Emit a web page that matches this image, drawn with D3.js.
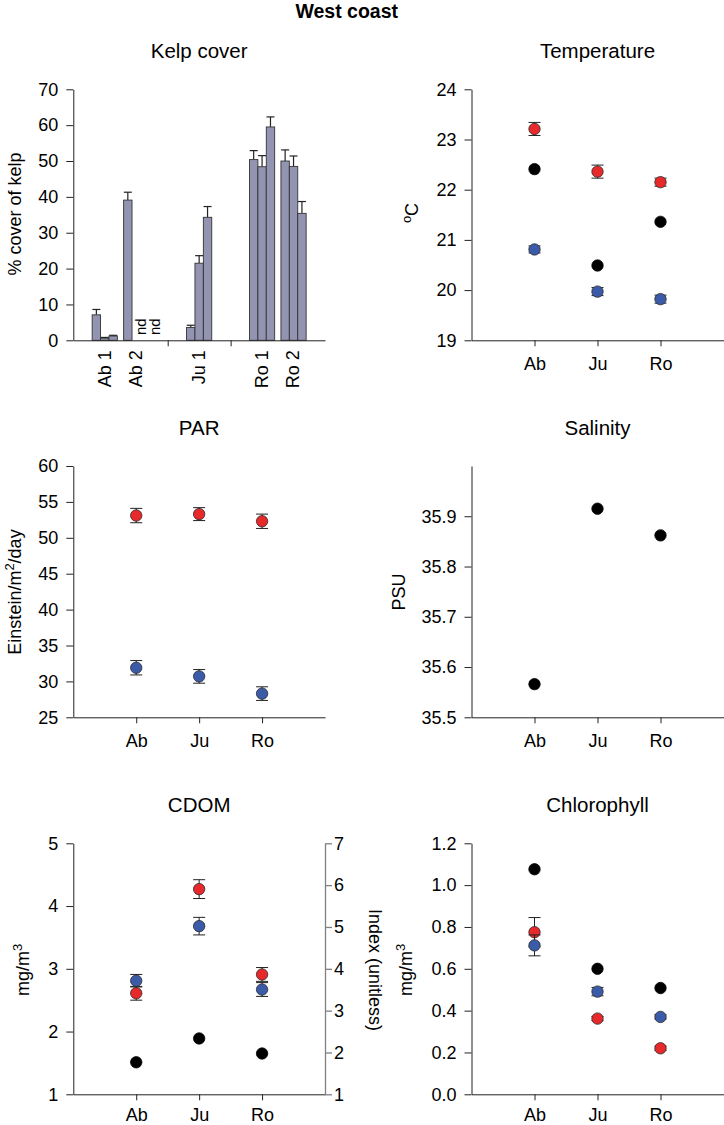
<!DOCTYPE html>
<html>
<head>
<meta charset="utf-8">
<script src="https://cdn.jsdelivr.net/npm/d3@7"></script>
<style>
  body { margin: 0; background: #fff; }
  svg { display: block; }
  text { font-family: "Liberation Sans", Arial, Helvetica, sans-serif; fill: #000; }
</style>
</head>
<body>
<svg id="chart" width="724" height="1125"></svg>
<script>
// ---------------- DATA ----------------
const sites = ["Ab", "Ju", "Ro"];

// Kelp cover (% cover), three bars per site group; null = "nd"
const kelpGroups = ["Ab 1", "Ab 2", "Ju 1", "Ro 1", "Ro 2"];
const kelpSlots = [1, 2, 4, 6, 7];
const kelpSeparators = [3, 5];
const kelpMean = [[7.1, 0.6, 1.2], [39.1, null, null], [3.6, 21.5, 34.3], [50.4, 48.4, 59.5], [50.0, 48.5, 35.4]];
const kelpSE = [[1.5, 0.2, 0.2], [2.2, null, null], [0.6, 2.1, 3.0], [2.5, 3.1, 2.8], [3.1, 2.9, 3.3]];
const kelpTicks = [0, 10, 20, 30, 40, 50, 60, 70];

// Temperature (oC)
const tempRed = [23.21, 22.36, 22.15];
const tempRedSE = [0.13, 0.13, 0.08];
const tempBlue = [20.81, 19.97, 19.82];
const tempBlueSE = [0.07, 0.08, 0.08];
const tempBlack = [22.41, 20.49, 21.36];
const tempTicks = [19, 20, 21, 22, 23, 24];

// PAR (Einstein/m2/day)
const parRed = [53.1, 53.3, 52.3];
const parRedSE = [1.0, 0.9, 1.0];
const parBlue = [31.9, 30.7, 28.3];
const parBlueSE = [1.0, 0.95, 0.95];
const parTicks = [25, 30, 35, 40, 45, 50, 55, 60];

// Salinity (PSU)
const salBlack = [35.566, 35.915, 35.862];
const salTicks = [35.5, 35.6, 35.7, 35.8, 35.9];

// CDOM (mg/m3, right axis index)
const cdomRed = [2.61, 4.27, 2.91];
const cdomRedSE = [0.11, 0.15, 0.11];
const cdomBlue = [2.81, 3.68, 2.67];
const cdomBlueSE = [0.10, 0.14, 0.11];
const cdomBlack = [1.51, 1.89, 1.65];
const cdomTicks = [1, 2, 3, 4, 5];
const cdomIndexTicks = [1, 2, 3, 4, 5, 6, 7];

// Chlorophyll (mg/m3)
const chlRed = [0.775, 0.362, 0.22];
const chlRedSE = [0.07, 0.01, 0.01];
const chlBlue = [0.712, 0.491, 0.37];
const chlBlueSE = [0.05, 0.02, 0.01];
const chlBlack = [1.076, 0.60, 0.508];
const chlTicks = [0, 0.2, 0.4, 0.6, 0.8, 1.0, 1.2];

// ---------------- STYLE / LAYOUT ----------------
const RED = "#e8292b", BLUE = "#3b5ba9", BLACK = "#000000", BAR = "#9394b1";
const AXIS = "#222";
const TICK_FS = 18, TITLE_FS = 20.5, LAB_FS = 18;
const LX = [73.3, 325], RX = [471.5, 723.5];
const ROWS = [[89.3, 340.3], [466, 717.3], [843.3, 1094.3]];
const TITLE_Y = [58, 435, 811.7];
const XPAD = [10.5, 10.5, 8];

const svg = d3.select("#chart");

svg.append("text")
  .attr("x", 346.7).attr("y", 17.5)
  .attr("text-anchor", "middle")
  .attr("font-weight", "bold")
  .attr("font-size", 19.5)
  .text("West coast");

function styleAxis(g) {
  g.selectAll(".domain").attr("stroke", AXIS).attr("stroke-width", 1);
  g.selectAll(".tick line").attr("stroke", AXIS).attr("stroke-width", 1);
  g.selectAll(".tick text").attr("font-size", TICK_FS).attr("fill", "#000")
    .attr("font-family", "Liberation Sans, Arial, sans-serif");
}

function addTitle(xr, row, txt) {
  svg.append("text")
    .attr("x", (xr[0] + xr[1]) / 2).attr("y", TITLE_Y[row])
    .attr("text-anchor", "middle").attr("font-size", TITLE_FS)
    .text(txt);
}

// rotated y title; parts = [[text, isSup], ...]
function addYTitle(bx, cy, parts, rot) {
  const t = svg.append("text")
    .attr("transform", `translate(${bx},${cy}) rotate(${rot || -90})`)
    .attr("text-anchor", "middle")
    .attr("font-size", LAB_FS);
  let supped = false;
  parts.forEach(([s, sup]) => {
    const ts = t.append("tspan").text(s);
    if (sup) { ts.attr("font-size", LAB_FS * 0.72).attr("dy", -7); supped = true; }
    else if (supped) { ts.attr("dy", 7); supped = false; }
  });
}

function scatterPanel(xr, row, yDomain, ticks, fmt) {
  const yr = ROWS[row];
  const x = d3.scaleLinear().domain([0, 4]).range(xr);
  const y = d3.scaleLinear().domain(yDomain).range([yr[1], yr[0]]);
  const gy = svg.append("g").attr("transform", `translate(${xr[0]},0)`)
    .call(d3.axisLeft(y).tickValues(ticks).tickFormat(fmt).tickSize(7).tickPadding(8).tickSizeOuter(0));
  styleAxis(gy);
  const gx = svg.append("g").attr("transform", `translate(0,${yr[1]})`)
    .call(d3.axisBottom(x).tickValues([1, 2, 3]).tickFormat(i => sites[i - 1]).tickSize(6).tickPadding(XPAD[row]).tickSizeOuter(0));
  styleAxis(gx);
  return { x, y };
}

function drawSeries(sc, vals, se, color) {
  const g = svg.append("g");
  const pts = vals.map((v, i) => ({ i: i + 1, v, e: se ? se[i] : 0 }));
  if (se) {
    const eb = g.selectAll("g.eb").data(pts).join("g");
    eb.append("line")
      .attr("x1", d => sc.x(d.i)).attr("x2", d => sc.x(d.i))
      .attr("y1", d => sc.y(d.v - d.e)).attr("y2", d => sc.y(d.v + d.e))
      .attr("stroke", AXIS).attr("stroke-width", 1);
    [-1, 1].forEach(s => {
      eb.append("line")
        .attr("x1", d => sc.x(d.i) - 6).attr("x2", d => sc.x(d.i) + 6)
        .attr("y1", d => sc.y(d.v + s * d.e)).attr("y2", d => sc.y(d.v + s * d.e))
        .attr("stroke", AXIS).attr("stroke-width", 1);
    });
  }
  g.selectAll("circle").data(pts).join("circle")
    .attr("cx", d => sc.x(d.i)).attr("cy", d => sc.y(d.v))
    .attr("r", 5.7)
    .attr("fill", color)
    .attr("stroke", color === BLACK ? BLACK : "#2a2a2a")
    .attr("stroke-width", 0.8);
}

// ---------------- KELP COVER ----------------
(function () {
  const yr = ROWS[0];
  addTitle(LX, 0, "Kelp cover");
  const x = d3.scaleLinear().domain([0, 8]).range(LX);
  const y = d3.scaleLinear().domain([0, 70]).range([yr[1], yr[0]]);
  const bw = 8.4;
  const bars = [];
  kelpMean.forEach((grp, gi) => grp.forEach((v, j) => {
    bars.push({ gi, j, v, e: kelpSE[gi][j], cx: x(kelpSlots[gi]) + (j - 1) * bw });
  }));
  const real = bars.filter(b => b.v !== null);
  const g = svg.append("g");
  // error bars (upper only)
  g.selectAll("line.ev").data(real).join("line")
    .attr("x1", d => d.cx).attr("x2", d => d.cx)
    .attr("y1", d => y(d.v)).attr("y2", d => y(d.v + d.e))
    .attr("stroke", AXIS).attr("stroke-width", 1.2);
  g.selectAll("line.ec").data(real).join("line")
    .attr("x1", d => d.cx - 4).attr("x2", d => d.cx + 4)
    .attr("y1", d => y(d.v + d.e)).attr("y2", d => y(d.v + d.e))
    .attr("stroke", AXIS).attr("stroke-width", 1.2);
  g.selectAll("rect").data(real).join("rect")
    .attr("x", d => d.cx - bw / 2).attr("width", bw)
    .attr("y", d => y(d.v)).attr("height", d => y(0) - y(d.v))
    .attr("fill", BAR).attr("stroke", "#333").attr("stroke-width", 0.9);
  // nd labels
  bars.filter(b => b.v === null).forEach(b => {
    svg.append("text")
      .attr("transform", `translate(${x(kelpSlots[b.gi]) + 10 + (b.j - 1) * 13.5},335) rotate(-90)`)
      .attr("font-size", 15).text("nd");
  });
  const gy = svg.append("g").attr("transform", `translate(${LX[0]},0)`)
    .call(d3.axisLeft(y).tickValues(kelpTicks).tickSize(7).tickPadding(8).tickSizeOuter(0));
  styleAxis(gy);
  const gx = svg.append("g").attr("transform", `translate(0,${yr[1]})`)
    .call(d3.axisBottom(x).tickValues(kelpSeparators).tickFormat("").tickSize(6).tickSizeOuter(0));
  styleAxis(gx);
  kelpGroups.forEach((lab, gi) => {
    svg.append("text")
      .attr("transform", `translate(${x(kelpSlots[gi])},${yr[1] + 10}) rotate(-90)`)
      .attr("text-anchor", "end").attr("dy", "0.32em")
      .attr("font-size", TICK_FS).text(lab);
  });
  addYTitle(20.5, 214, [["% cover of kelp", false]]);
})();

// ---------------- TEMPERATURE ----------------
(function () {
  addTitle(RX, 0, "Temperature");
  const sc = scatterPanel(RX, 0, [19, 24], tempTicks, d3.format("d"));
  drawSeries(sc, tempRed, tempRedSE, RED);
  drawSeries(sc, tempBlue, tempBlueSE, BLUE);
  drawSeries(sc, tempBlack, null, BLACK);
  addYTitle(417.5, 213, [["o", true], ["C", false]]);
})();

// ---------------- PAR ----------------
(function () {
  addTitle(LX, 1, "PAR");
  const sc = scatterPanel(LX, 1, [25, 60], parTicks, d3.format("d"));
  drawSeries(sc, parRed, parRedSE, RED);
  drawSeries(sc, parBlue, parBlueSE, BLUE);
  addYTitle(20.5, 592, [["Einstein/m", false], ["2", true], ["/day", false]]);
})();

// ---------------- SALINITY ----------------
(function () {
  addTitle(RX, 1, "Salinity");
  const sc = scatterPanel(RX, 1, [35.5, 36.0], salTicks, d3.format(".1f"));
  drawSeries(sc, salBlack, null, BLACK);
  addYTitle(404.5, 592, [["PSU", false]]);
})();

// ---------------- CDOM ----------------
(function () {
  addTitle(LX, 2, "CDOM");
  const sc = scatterPanel(LX, 2, [1, 5], cdomTicks, d3.format("d"));
  const yr = ROWS[2];
  const yIdx = d3.scaleLinear().domain([1, 7]).range([yr[1], yr[0]]);
  const gr = svg.append("g").attr("transform", `translate(${LX[1]},0)`)
    .call(d3.axisRight(yIdx).tickValues(cdomIndexTicks).tickFormat(d3.format("d")).tickSize(7).tickPadding(2).tickSizeOuter(0));
  styleAxis(gr);
  gr.selectAll(".domain, .tick line").attr("stroke", "#808080").attr("stroke-width", 1.3);
  drawSeries(sc, cdomRed, cdomRedSE, RED);
  drawSeries(sc, cdomBlue, cdomBlueSE, BLUE);
  drawSeries(sc, cdomBlack, null, BLACK);
  addYTitle(29, 970, [["mg/m", false], ["3", true]]);
  addYTitle(369, 970, [["Index (unitless)", false]], 90);
})();

// ---------------- CHLOROPHYLL ----------------
(function () {
  addTitle(RX, 2, "Chlorophyll");
  const sc = scatterPanel(RX, 2, [0, 1.2], chlTicks, d3.format(".1f"));
  drawSeries(sc, chlRed, chlRedSE, RED);
  drawSeries(sc, chlBlue, chlBlueSE, BLUE);
  drawSeries(sc, chlBlack, null, BLACK);
  addYTitle(412, 970, [["mg/m", false], ["3", true]]);
})();
</script>
</body>
</html>
